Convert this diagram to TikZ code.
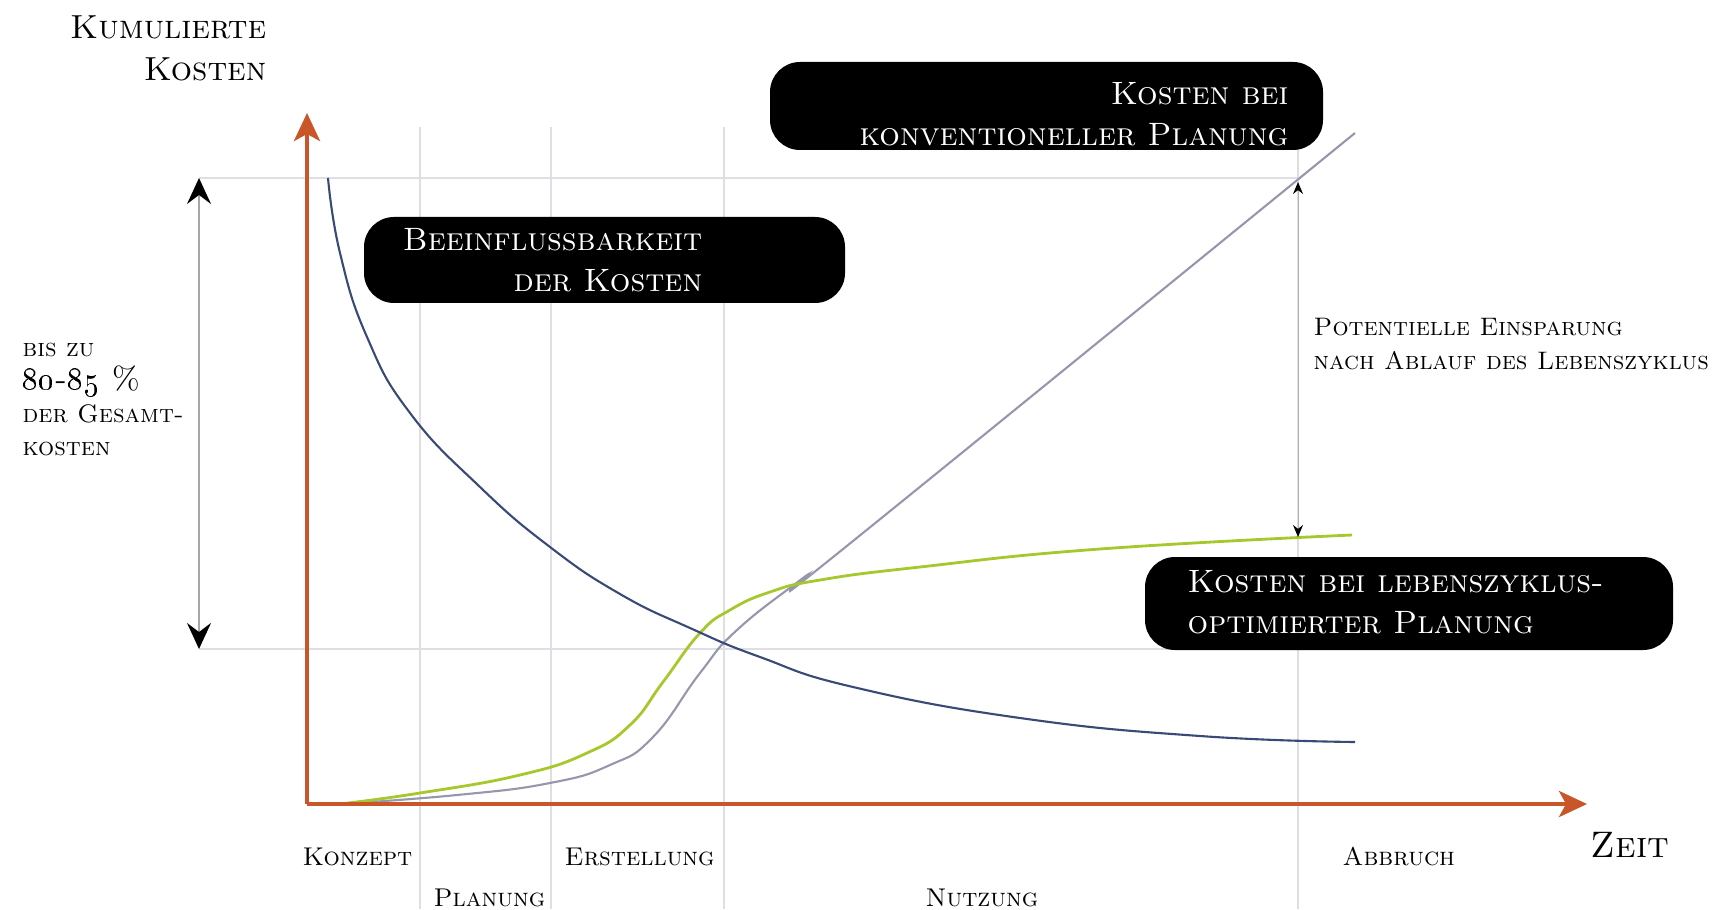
\documentclass[tikz,border=0pt]{standalone}
\usetikzlibrary{arrows.meta}
\definecolor{axisorange}{RGB}{200,86,40}
\definecolor{gridgray}{RGB}{222,222,228}
\definecolor{convgray}{RGB}{150,150,172}
\definecolor{inflblue}{RGB}{58,74,118}
\definecolor{lcgreen}{RGB}{166,200,44}
\tikzset{
 axis/.style={draw=axisorange,line width=1.2pt,-{Stealth[length=2.8mm,width=2.6mm,inset=0.7mm]}},
 gridline/.style={draw=gridgray,line width=0.4pt},
 bigspan/.style={draw=gray!70,line width=0.4pt,{Stealth[length=2.6mm,width=2.4mm,inset=0.9mm,black]}-{Stealth[length=2.6mm,width=2.4mm,inset=0.9mm,black]}},
 smallspan/.style={draw=gray!60,line width=0.3pt,{Stealth[length=1.2mm,width=1mm,black]}-{Stealth[length=1.2mm,width=1mm,black]}},
 blackbox/.style={fill=black,rounded corners=3mm,inner sep=0pt},
 boxtext/.style={text=white,inner sep=0pt,font=\fontsize{9.2}{11.7}\selectfont\scshape},
 lbl/.style={inner sep=0pt,font=\fontsize{7.3}{9}\selectfont\scshape}
}
\begin{document}
\begin{tikzpicture}[x=0.1mm,y=-0.1mm]
 \path[use as bounding box] (0,0) rectangle (1720,909);
 \foreach \xx in {420,551,724,1298}
  \draw[gridline] (\xx,127) -- (\xx,909);
 \draw[gridline] (199,178) -- (1298,178);
 \draw[gridline] (199,649) -- (1298,649);
 \coordinate (origin) at (307,804);
 \coordinate (ytip) at (307,113);
 \coordinate (xtip) at (1587,804);
 \coordinate (sharetop) at (199,178);
 \coordinate (sharebot) at (199,649);
 \coordinate (savetop) at (1298,182);
 \coordinate (savebot) at (1298,537);
 \draw[convgray,line width=0.6pt] plot[smooth,tension=0.8] coordinates {(340,804) (457,795) (550,783) (610,765) (653,737) (700,673) (737,630) (803,578) (853,541) (1355,133)};
 \draw[lcgreen,line width=0.8pt] plot[smooth,tension=0.8] coordinates {(340,804) (420,793) (520,775) (587,753) (630,725) (663,682) (700,633) (730,610) (770,592) (820,580) (920,567) (1100,549) (1352,535)};
 \draw[inflblue,line width=0.6pt] plot[smooth,tension=0.8] coordinates {(328,178) (340,253) (367,337) (410,413) (480,487) (550,547) (620,594) (690,628) (760,657) (853,687) (1020,718) (1200,736) (1355,742)};
 \draw[axis] (origin) -- (ytip);
 \draw[axis] (origin) -- (xtip);
 \draw[bigspan] (sharetop) -- (sharebot);
 \draw[smallspan] (savetop) -- (savebot);
 \node[blackbox,minimum width=48.1mm,minimum height=8.6mm] (inflbox) at (604.5,260) {};
 \node[boxtext,align=right,anchor=north east] (infltext) at (703,228) {Beeinflussbarkeit\\der Kosten};
 \node[blackbox,minimum width=55.3mm,minimum height=8.8mm] (convbox) at (1046.5,106) {};
 \node[boxtext,align=right,anchor=north east] (convtext) at (1289,82) {Kosten bei\\konventioneller Planung};
 \node[blackbox,minimum width=52.8mm,minimum height=9.3mm] (lcbox) at (1409,603.5) {};
 \node[boxtext,align=left,anchor=north west] (lctext) at (1187,570) {Kosten bei lebenszyklus-\\optimierter Planung};
 \node[lbl,font=\fontsize{9.5}{11.9}\selectfont\scshape,align=right,anchor=north east] (ylabel) at (267,15) {Kumulierte\\Kosten};
 \node[lbl,font=\fontsize{10.5}{12}\selectfont\scshape,anchor=base west] (xlabel) at (1590,857) {Zeit};
 \node[lbl,font=\fontsize{7.2}{9.4}\selectfont\scshape,align=left,anchor=north west] (sharetext) at (22,342) {bis zu\\{\fontsize{9}{9.4}\selectfont\oldstylenums{80}-\oldstylenums{85} \%}\\der Gesamt-\\kosten};
 \node[lbl,font=\fontsize{7.2}{9.6}\selectfont\scshape,align=left,anchor=north west] (savetext) at (1313,318) {Potentielle Einsparung\\nach Ablauf des Lebenszyklus};
 \node[lbl,anchor=base west] (konzept) at (302,865) {Konzept};
 \node[lbl,anchor=base west] (planung) at (433,906) {Planung};
 \node[lbl,anchor=base west] (erstellung) at (564,865) {Erstellung};
 \node[lbl,anchor=base west] (nutzung) at (925,906) {Nutzung};
 \node[lbl,anchor=base west] (abbruch) at (1342,865) {Abbruch};
\end{tikzpicture}
\end{document}
